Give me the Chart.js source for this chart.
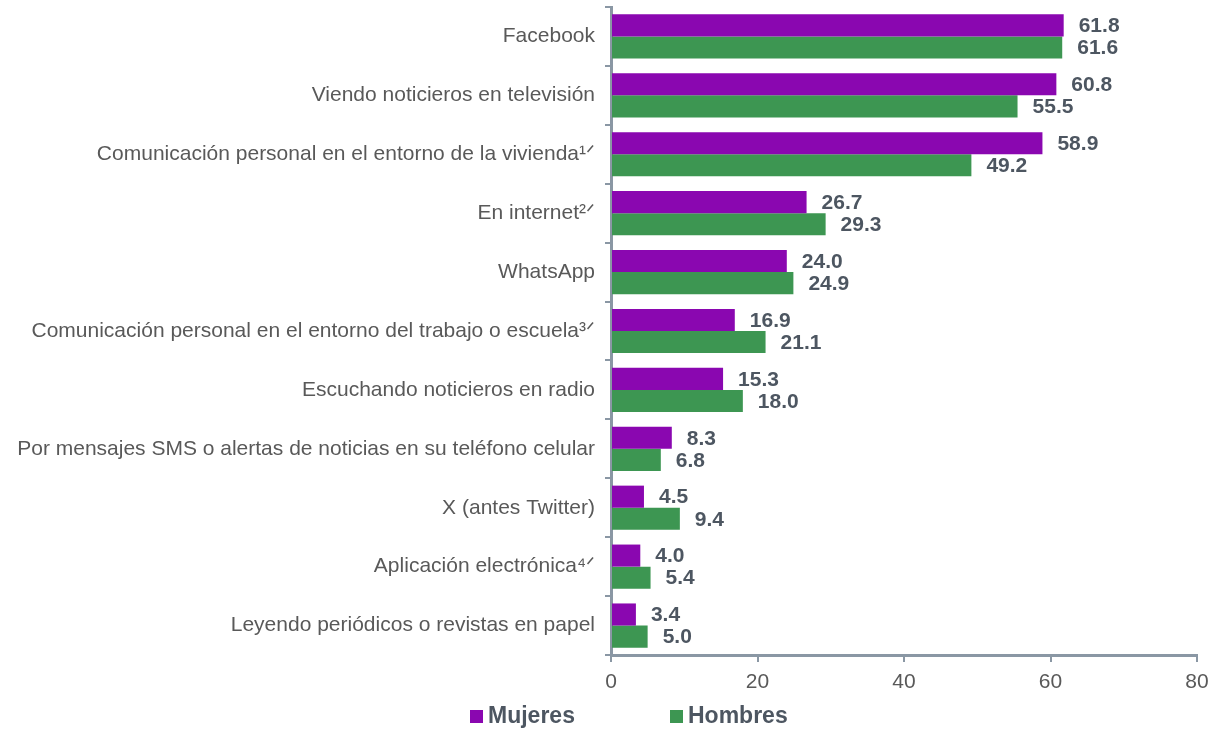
<!DOCTYPE html>
<html>
<head>
<meta charset="utf-8">
<script src="https://cdn.jsdelivr.net/npm/chart.js@4.4.1/dist/chart.umd.min.js"></script>
<style>
html,body{margin:0;padding:0;background:#fff;}
#wrap{width:1212px;height:731px;}
</style>
</head>
<body>
<div id="wrap"><canvas id="c" width="1212" height="731"></canvas></div>
<script>
const categories = [
  "Facebook",
  "Viendo noticieros en televisión",
  "Comunicación personal en el entorno de la vivienda¹ᐟ",
  "En internet²ᐟ",
  "WhatsApp",
  "Comunicación personal en el entorno del trabajo o escuela³ᐟ",
  "Escuchando noticieros en radio",
  "Por mensajes SMS o alertas de noticias en su teléfono celular",
  "X (antes Twitter)",
  "Aplicación electrónica⁴ᐟ",
  "Leyendo periódicos o revistas en papel"
];
const mujeres = [61.8, 60.8, 58.9, 26.7, 24.0, 16.9, 15.3, 8.3, 4.5, 4.0, 3.4];
const hombres = [61.6, 55.5, 49.2, 29.3, 24.9, 21.1, 18.0, 6.8, 9.4, 5.4, 5.0];
const xTicks = [0, 20, 40, 60, 80];
const seriesNames = ["Mujeres", "Hombres"];
const seriesColors = ["#8a07b0", "#3d9652"];

const AXIS = '#8a97a4';
const TXT = '#595959';
const VAL = '#4d5661';
const FONT = '"Liberation Sans", Arial, sans-serif';

const valueLabels = {
  id: 'valueLabels',
  afterDatasetsDraw(chart) {
    const ctx = chart.ctx;
    ctx.save();
    ctx.font = 'bold 21px ' + FONT;
    ctx.fillStyle = VAL;
    ctx.textAlign = 'left';
    ctx.textBaseline = 'middle';
    chart.data.datasets.forEach((ds, di) => {
      const meta = chart.getDatasetMeta(di);
      meta.data.forEach((bar, i) => {
        ctx.fillText(ds.data[i].toFixed(1), bar.x + 15, bar.y + 1);
      });
    });
    ctx.restore();
  }
};

const customLegend = {
  id: 'customLegend',
  afterDraw(chart) {
    const ctx = chart.ctx;
    ctx.save();
    ctx.font = 'bold 23px ' + FONT;
    ctx.textBaseline = 'middle';
    ctx.textAlign = 'left';
    const xs = [470, 670];
    const y = 716;
    chart.data.datasets.forEach((ds, i) => {
      ctx.fillStyle = ds.backgroundColor;
      ctx.fillRect(xs[i], y - 6, 13, 13);
      ctx.fillStyle = VAL;
      ctx.fillText(ds.label, xs[i] + 18, y + 1);
    });
    ctx.restore();
  }
};

new Chart(document.getElementById('c'), {
  type: 'bar',
  data: {
    labels: categories,
    datasets: seriesNames.map((n, i) => ({
      label: n,
      data: i === 0 ? mujeres : hombres,
      backgroundColor: seriesColors[i],
      borderWidth: 0
    }))
  },
  options: {
    indexAxis: 'y',
    responsive: false,
    animation: false,
    layout: { padding: { left: 0, right: 15, top: 7, bottom: 0 } },
    categoryPercentage: 0.75,
    barPercentage: 1.0,
    plugins: {
      legend: { display: false },
      tooltip: { enabled: false }
    },
    scales: {
      x: {
        min: 0, max: 80,
        afterBuildTicks(scale) { scale.ticks = xTicks.map(v => ({ value: v })); },
        afterFit(scale) { scale.height = 731 - 655; scale.paddingLeft = 0; scale.paddingRight = 0; },
        border: { color: AXIS, width: 3 },
        grid: { drawOnChartArea: false, drawTicks: true, tickLength: 7, color: AXIS, lineWidth: 2 },
        ticks: { color: TXT, padding: 8, font: { family: FONT, size: 21 } }
      },
      y: {
        afterFit(scale) { scale.width = 611; scale.paddingTop = 0; scale.paddingBottom = 0; },
        border: { color: AXIS, width: 3 },
        grid: { offset: true, drawOnChartArea: false, drawTicks: true, tickLength: 6, color: AXIS, lineWidth: 2 },
        ticks: { color: TXT, padding: 10, font: { family: FONT, size: 21 } }
      }
    }
  },
  plugins: [valueLabels, customLegend]
});
</script>
</body>
</html>
